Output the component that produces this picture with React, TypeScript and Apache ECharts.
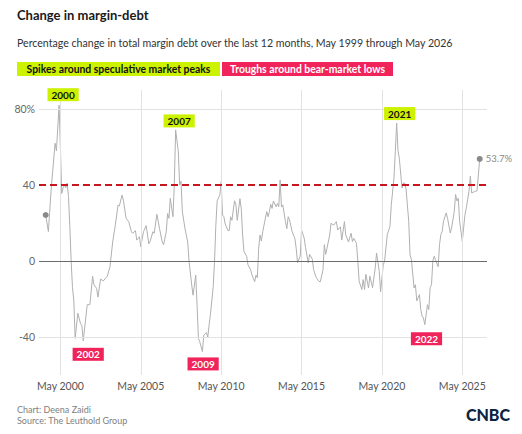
import React, { useEffect, useRef } from "react";
import * as echarts from "echarts";

// Month-end readings of the 12-month % change in margin debt
const months = [
  "1999-05", "1999-07", "1999-09", "1999-12", "2000-01", "2000-03", "2000-05", "2000-06", "2000-07", "2000-08",
  "2000-09", "2000-10", "2000-11", "2000-12", "2001-01", "2001-02", "2001-03", "2001-05", "2001-07", "2001-08",
  "2001-09", "2001-12", "2002-02", "2002-04", "2002-05", "2002-07", "2002-08", "2002-10", "2002-12", "2003-02",
  "2003-03", "2003-05", "2003-07", "2003-09", "2003-11", "2003-12", "2004-02", "2004-03", "2004-05", "2004-07",
  "2004-09", "2004-10", "2004-12", "2005-01", "2005-03", "2005-04", "2005-06", "2005-08", "2005-10", "2005-11",
  "2006-01", "2006-02", "2006-04", "2006-06", "2006-08", "2006-09", "2006-11", "2006-12", "2007-01", "2007-02",
  "2007-04", "2007-05", "2007-06", "2007-08", "2007-09", "2007-10", "2007-11", "2008-01", "2008-03", "2008-04",
  "2008-06", "2008-07", "2008-09", "2008-10", "2008-11", "2008-12", "2009-02", "2009-03", "2009-05", "2009-06",
  "2009-07", "2009-08", "2009-10", "2009-11", "2009-12", "2010-01", "2010-03", "2010-04", "2010-05", "2010-06",
  "2010-07", "2010-09", "2010-10", "2010-11", "2010-12", "2011-02", "2011-03", "2011-04", "2011-06", "2011-07",
  "2011-08", "2011-09", "2011-11", "2011-12", "2012-02", "2012-03", "2012-05", "2012-06", "2012-07", "2012-08",
  "2012-09", "2012-10", "2012-11", "2012-12", "2013-02", "2013-03", "2013-04", "2013-05", "2013-06", "2013-07",
  "2013-09", "2013-10", "2013-11", "2013-12", "2014-01", "2014-02", "2014-04", "2014-05", "2014-06", "2014-07",
  "2014-09", "2014-11", "2014-12", "2015-01", "2015-03", "2015-04", "2015-06", "2015-07", "2015-09", "2015-10",
  "2015-12", "2016-01", "2016-03", "2016-05", "2016-06", "2016-08", "2016-09", "2016-10", "2016-11", "2017-01",
  "2017-02", "2017-04", "2017-06", "2017-07", "2017-09", "2017-10", "2017-12", "2018-01", "2018-03", "2018-05",
  "2018-06", "2018-07", "2018-09", "2018-10", "2018-11", "2019-01", "2019-02", "2019-03", "2019-04", "2019-06",
  "2019-07", "2019-09", "2019-11", "2019-12", "2020-02", "2020-03", "2020-05", "2020-06", "2020-08", "2020-10",
  "2020-11", "2021-01", "2021-02", "2021-03", "2021-04", "2021-05", "2021-07", "2021-08", "2021-09", "2021-10",
  "2021-12", "2022-01", "2022-02", "2022-04", "2022-05", "2022-06", "2022-08", "2022-09", "2022-10", "2022-11",
  "2022-12", "2023-02", "2023-03", "2023-04", "2023-05", "2023-06", "2023-07", "2023-08", "2023-10", "2023-11",
  "2023-12", "2024-01", "2024-02", "2024-04", "2024-05", "2024-07", "2024-08", "2024-10", "2024-11", "2024-12",
  "2025-01", "2025-02", "2025-04", "2025-05", "2025-06", "2025-07", "2025-09", "2025-10", "2025-11", "2026-01",
  "2026-03", "2026-05",
];

const changePct = [
  24.2, 15.5, 37, 62, 58, 82, 35.6, 38.5, 40, 38.5,
  41, 34, 18.6, 0, -14, -21, -40.7, -27.5, -33, -34,
  -42, -23, -23, -8, -12.5, -14.4, -19, -9.5, -10.5, -8.8,
  -8, -3, 10, 19, 29.4, 29, 34.7, 32, 22.5, 20.7,
  15.4, 14.6, 16, 11, 12.8, 7.5, 15.4, 18.6, 9, 10.4,
  15.4, 14.6, 24.6, 17, 10, 8.6, 15.4, 25, 22.5, 33,
  23.3, 40, 69, 57.5, 40, 42, 26, 17, 10, 0,
  -12.6, -18, -7.4, -23, -40.7, -42.5, -47.7, -39, -37.7, -40,
  -33.7, -28, -13.9, -0.9, 18.6, 31.7, 34.7, 41.8, 24.2, 23.3,
  19.5, 16, 16, 23.3, 21.4, 31.7, 29.6, 21.4, 32.8, 27.5,
  13.7, 5, 2.5, -2, -4.6, -7.4, -10.9, -7.4, -8.8, 6.7,
  13.7, 10.5, 15.4, 18.9, 26, 23.3, 26, 29.8, 27.7, 31.6,
  28.6, 30.3, 28.6, 42.6, 28.4, 29.5, 20.7, 17, 23.3, 21.6,
  15.4, 11.9, 6.7, -1, 2.6, 16.3, 11.9, 7, -1, 3.5,
  1, -4.6, -8.8, -10.7, -11, -4.6, 8.6, 3.5, 6.7, 13.7,
  19.8, 18.9, 20.7, 16.3, 18, 11, 20.7, 13.7, 10, 14.6,
  10.2, 11.9, 9.3, 0, -10.7, -15, -9.8, -15, -7, -14.2,
  -8, -14, -3.7, 4.2, -5.4, -16.3, -2, 0, 13.9, 18.2,
  29.6, 43.7, 57.7, 72.6, 58, 54, 38.4, 41, 41, 38,
  21, 3.3, 0.7, -14.2, -12.5, -21, -17.7, -25.6, -29, -30,
  -33.5, -23, -25.6, -14, -12.5, 0, 2.5, 0.7, -3, 8.6,
  13.9, 15.6, 21, 25.3, 22.5, 14.7, 17.4, 26, 35, 31.6,
  33, 21, 10.3, 17.4, 24.4, 28, 36.7, 44.6, 35.8, 36.5,
  37, 53.7,
];

const xTickYears = [2000, 2005, 2010, 2015, 2020, 2025];
const yTickValues = [-40, 0, 40, 80];
const thresholdPct = 40;

// Year tags for the peaks and troughs, and the month each one marks
const peakTags = ["2000", "2007", "2021"];
const peakMonths = ["2000-03", "2007-06", "2021-03"];
const troughTags = ["2002", "2009", "2022"];
const troughMonths = ["2001-09", "2009-02", "2022-12"];

const LIME = "#cdf200";
const PINK = "#f0245b";
const FONT = "Lato, 'Open Sans', sans-serif";

// month-end position on a fractional-year axis
const toX = (ym: string) => {
  const [y, m] = ym.split("-").map(Number);
  return y + m / 12;
};
// start of May, where the year ticks sit
const mayX = (yr: number) => yr + 4 / 12;

const valueAt = (ym: string) => changePct[months.indexOf(ym)];

export default function App() {
  const ref = useRef<HTMLDivElement>(null);

  useEffect(() => {
    document.body.style.margin = "0";
    if (!ref.current) return;
    const chart = echarts.init(ref.current, undefined, { renderer: "svg" });

    const points = months.map((m, i) => [toX(m), changePct[i]]);
    const first = points[0];
    const last = points[points.length - 1];

    const peakOffsets = [[4, -10.5], [3.5, -9], [3, -9.5]];
    const troughOffsets = [[5, 13.5], [0.7, 12.3], [1.7, 14]];

    const tag = (text: string, ym: string, offset: number[], bg: string, fg: string) => ({
      coord: [toX(ym), valueAt(ym)],
      symbol: "circle",
      symbolSize: 0,
      label: {
        show: true,
        position: "inside",
        offset,
        formatter: text,
        backgroundColor: bg,
        color: fg,
        fontWeight: "bold",
        fontSize: 10,
        fontFamily: FONT,
        padding: [2, 4, 1, 4],
      },
    });

    const gridColor = "#e2e2e2";

    chart.setOption({
      animation: false,
      textStyle: { fontFamily: FONT },
      grid: { left: 39, right: 35, top: 90, bottom: 59 },
      xAxis: {
        type: "value",
        min: 1999.0,
        max: 2026.87,
        axisLine: { show: false },
        axisTick: { show: false },
        splitLine: { show: false },
        axisLabel: {
          customValues: xTickYears.map(mayX),
          formatter: (v: number) => "May " + Math.floor(v),
          color: "#555",
          fontSize: 10.5,
          margin: 5,
        },
      },
      yAxis: {
        type: "value",
        min: -60,
        max: 90,
        axisLine: { show: false },
        axisTick: { show: false },
        splitLine: { show: false },
        axisLabel: {
          customValues: yTickValues,
          formatter: (v: number) => (v === 80 ? "80%" : String(v)),
          color: "#666",
          fontSize: 10.5,
          margin: 4,
        },
      },
      series: [
        {
          // grid lines under the data
          type: "line",
          data: [],
          z: 1,
          silent: true,
          markLine: {
            silent: true,
            symbol: "none",
            label: { show: false },
            animation: false,
            data: [
              ...xTickYears.map((yr) => ({ xAxis: mayX(yr), lineStyle: { color: gridColor, width: 1, type: "solid" } })),
              ...yTickValues
                .filter((v) => v !== 0 && v !== thresholdPct)
                .map((v) => ({ yAxis: v, lineStyle: { color: gridColor, width: 1, type: "solid" } })),
              { yAxis: 0, lineStyle: { color: "#6b6b6b", width: 1.2, type: "solid" } },
            ],
          },
        },
        {
          type: "line",
          data: points,
          z: 3,
          showSymbol: false,
          symbol: "none",
          lineStyle: { color: "#b0b0b0", width: 1 },
          markLine: {
            silent: true,
            symbol: "none",
            label: { show: false },
            animation: false,
            data: [{ yAxis: thresholdPct, lineStyle: { color: "#c8161e", width: 2, type: [7, 4] } }],
          },
          markPoint: {
            animation: false,
            data: [
              {
                coord: first,
                symbol: "circle",
                symbolSize: 6,
                itemStyle: { color: "#8a8a8a" },
                label: { show: false },
              },
              {
                coord: last,
                symbol: "circle",
                symbolSize: 6,
                itemStyle: { color: "#8a8a8a" },
                label: {
                  show: true,
                  position: "right",
                  distance: 3,
                  formatter: `${last[1]}%`,
                  color: "#8a8a8a",
                  fontSize: 9.5,
                },
              },
              ...peakTags.map((t, i) => tag(t, peakMonths[i], peakOffsets[i], LIME, "#111")),
              ...troughTags.map((t, i) => tag(t, troughMonths[i], troughOffsets[i], PINK, "#fff")),
            ],
          },
        },
      ],
      graphic: [
        {
          type: "text",
          left: 17,
          top: 8,
          style: { text: "Change in margin-debt", fill: "#1a1a1a", font: `bold 13px ${FONT}` },
        },
        {
          type: "text",
          left: 17,
          top: 37,
          style: {
            text: "Percentage change in total margin debt over the last 12 months, May 1999 through May 2026",
            font: `10.6px ${FONT}`,
            fill: "#333",
          },
        },
        { type: "rect", shape: { x: 17, y: 62, width: 203, height: 14 }, style: { fill: LIME } },
        {
          type: "text",
          x: 118.5,
          y: 69,
          style: {
            text: "Spikes around speculative market peaks",
            font: `bold 10.4px ${FONT}`,
            fill: "#111",
            align: "center",
            verticalAlign: "middle",
          },
        },
        { type: "rect", shape: { x: 222, y: 62, width: 171, height: 14 }, style: { fill: PINK } },
        {
          type: "text",
          x: 307.5,
          y: 69,
          style: {
            text: "Troughs around bear-market lows",
            font: `bold 10.4px ${FONT}`,
            fill: "#fff",
            align: "center",
            verticalAlign: "middle",
          },
        },
        {
          type: "text",
          x: 17,
          y: 409,
          style: { text: "Chart: Deena Zaidi", font: `9px ${FONT}`, fill: "#808080", verticalAlign: "middle" },
        },
        {
          type: "text",
          x: 17,
          y: 420,
          style: { text: "Source: The Leuthold Group", font: `9px ${FONT}`, fill: "#808080", verticalAlign: "middle" },
        },
        {
          type: "text",
          x: 510,
          y: 414,
          style: {
            text: "CNBC",
            font: `900 16px ${FONT}`,
            fill: "#0c2340",
            align: "right",
            verticalAlign: "middle",
          },
        },
      ],
    });

    return () => chart.dispose();
  }, []);

  return <div ref={ref} style={{ width: 522, height: 434 }} />;
}
